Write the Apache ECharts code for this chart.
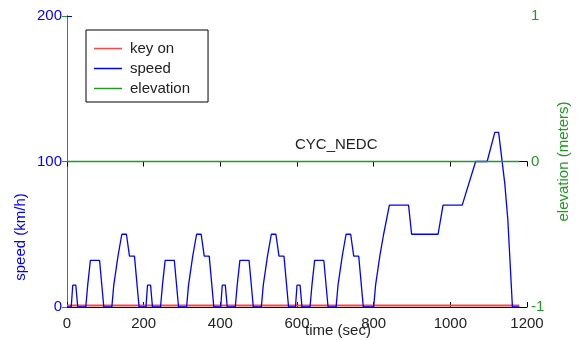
<!DOCTYPE html>
<html>
<head>
<meta charset="utf-8">
<script src="https://cdn.jsdelivr.net/npm/echarts@6/dist/echarts.min.js"></script>
<style>
  html, body { margin: 0; padding: 0; background: #fff; }
  #chart { width: 579px; height: 340px; }
</style>
</head>
<body>
<div id="chart"></div>
<script>
// NEDC breakpoints (sec, km/h)
const eceTimes  = [0, 11, 15, 23, 28, 49, 54, 56, 61, 85, 96, 117, 122, 124, 133, 135, 143, 155, 163, 176, 178, 188, 195];
const eceSpeeds = [0, 0, 15, 15, 0, 0, 15, 15, 32, 32, 0, 0, 15, 15, 35, 35, 50, 50, 35, 35, 35, 0, 0];
const eudcTimes  = [780, 800, 805, 807, 816, 818, 826, 828, 841, 891, 899, 968, 981, 1031, 1066, 1096, 1116, 1126, 1142, 1150, 1162, 1180];
const eudcSpeeds = [0, 0, 15, 15, 35, 35, 50, 50, 70, 70, 50, 50, 70, 70, 100, 100, 120, 120, 85, 60, 0, 0];
const eceStarts = [0, 195, 390, 585];

const keyOnTimes = [0, 1180];
const keyOnValues = [1, 1];
const elevTimes = [0, 1180];
const elevValues = [0, 0];

const speedData = [];
eceStarts.forEach(s => {
  eceTimes.forEach((t, i) => speedData.push([s + t, eceSpeeds[i]]));
});
eudcTimes.forEach((t, i) => speedData.push([t, eudcSpeeds[i]]));

const font = "'Liberation Sans', Arial, Helvetica, sans-serif";
const blue = "#0000ff";
const green = "#229922";

const chart = echarts.init(document.getElementById("chart"));
chart.setOption({
  animation: false,
  textStyle: { fontFamily: font },
  title: {
    text: "CYC_NEDC",
    left: 295,
    top: 137,
    padding: 0,
    textStyle: { fontSize: 15, fontWeight: "normal", color: "#222", fontFamily: font },
  },
  grid: { left: 67, right: 44, top: 16, bottom: 33 },
  legend: {
    orient: "vertical",
    left: 86,
    top: 30,
    padding: [11, 18, 6, 8],
    icon: "rect",
    itemWidth: 28,
    itemHeight: 1.5,
    itemGap: 5,
    borderColor: "#000",
    borderWidth: 1,
    backgroundColor: "#fff",
    textStyle: { fontSize: 15, lineHeight: 15, color: "#222", fontFamily: font, padding: [0, 0, 0, 3] },
    data: ["key on", "speed", "elevation"],
  },
  xAxis: [
    {
      type: "value",
      min: 0,
      max: 1200,
      interval: 200,
      axisLine: { lineStyle: { color: "#000" } },
      axisTick: { inside: true, length: 5, lineStyle: { color: "#000" } },
      axisLabel: { color: "#222", fontSize: 15, margin: 9, formatter: v => String(v) },
      splitLine: { show: false },
    },
    {
      type: "value",
      position: "top",
      min: 0,
      max: 1200,
      interval: 200,
      axisLine: { show: true, lineStyle: { color: "#000" } },
      axisTick: { inside: true, length: 5, lineStyle: { color: "#000" } },
      axisLabel: { show: false },
      splitLine: { show: false },
    },
  ],
  yAxis: [
    {
      type: "value",
      min: 0,
      max: 200,
      interval: 100,
      axisLine: { show: true, lineStyle: { color: blue } },
      axisTick: { show: true, inside: true, length: 5, lineStyle: { color: blue } },
      axisLabel: { color: blue, fontSize: 15, margin: 5 },
      splitLine: { show: false },
    },
    {
      type: "value",
      position: "right",
      min: -1,
      max: 1,
      interval: 1,
      name: "elevation (meters)",
      nameLocation: "middle",
      nameRotate: 90,
      nameGap: 29,
      nameTextStyle: { color: green, fontSize: 15, fontFamily: font },
      axisLine: { show: true, lineStyle: { color: green } },
      axisTick: { show: true, inside: true, length: 5, lineStyle: { color: green } },
      axisLabel: { color: green, fontSize: 15, margin: 4 },
      splitLine: { show: false },
    },
  ],
  graphic: [
    {
      type: "text",
      x: 21,
      y: 237,
      rotation: Math.PI / 2,
      style: { text: "speed (km/h)", fill: blue, font: "15px " + font, align: "center", verticalAlign: "middle" },
    },
    {
      type: "text",
      x: 338,
      y: 331,
      style: { text: "time (sec)", fill: "#222", font: "15px " + font, align: "center", verticalAlign: "middle" },
    },
  ],
  series: [
    {
      name: "key on",
      type: "line",
      symbol: "none",
      color: "#ff4444",
      lineStyle: { width: 2, color: "#ff4444" },
      data: keyOnTimes.map((t, i) => [t, keyOnValues[i]]),
    },
    {
      name: "speed",
      type: "line",
      symbol: "none",
      color: blue,
      lineStyle: { width: 1.3, color: blue },
      data: speedData,
    },
    {
      name: "elevation",
      type: "line",
      yAxisIndex: 1,
      symbol: "none",
      color: green,
      lineStyle: { width: 1.5, color: green },
      data: elevTimes.map((t, i) => [t, elevValues[i]]),
    },
  ],
});
</script>
</body>
</html>
